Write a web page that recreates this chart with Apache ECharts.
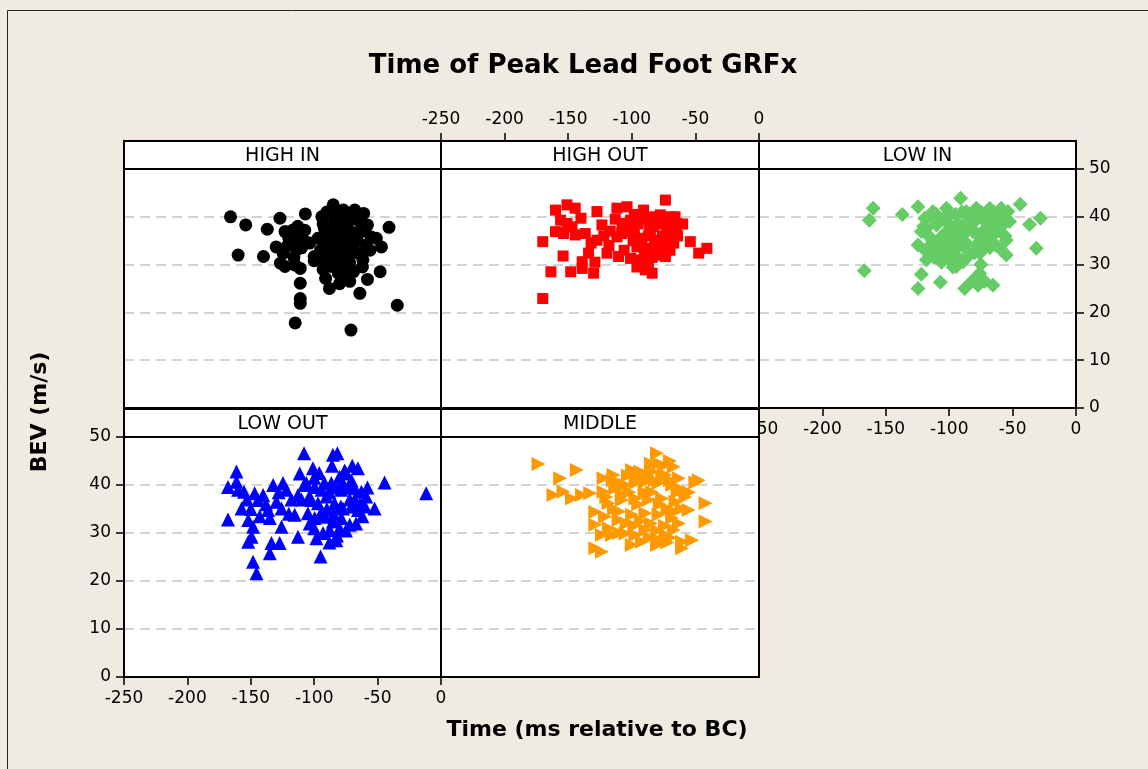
<!DOCTYPE html>
<html>
<head>
<meta charset="utf-8">
<script src="https://cdn.jsdelivr.net/npm/echarts@6/dist/echarts.min.js"></script>
<style>
  html, body { margin: 0; padding: 0; background: #EFEBE1; }
  #chart { width: 1148px; height: 769px; }
</style>
</head>
<body>
<div id="chart"></div>
<script>
// Panel labels (one panel per group)
const panelNames = ['HIGH IN', 'HIGH OUT', 'LOW IN', 'LOW OUT', 'MIDDLE'];

// Axis ranges shared by every panel
const xMin = -250, xMax = 0, xStep = 50;
const yMin = 0, yMax = 50, yStep = 10;

// [time (ms relative to BC), BEV (m/s)] per group
const highIn = [
  [-166,40],[-154,38.3],[-160,32],[-140,31.7],[-137,37.4],[-127,39.7],[-107,40.6],[-130,33.7],
  [-124.5,32.4],[-126.6,30.3],[-123,29.6],[-123,36.9],[-117,37.2],[-111,35.8],[-118,34.8],[-114,33.1],
  [-107.5,37.2],[-103.5,34.5],[-115,29.9],[-111,29.2],[-111,26.1],[-111,22.9],[-111,21.9],[-115,17.8],
  [-100,31.7],[-100,30.8],[-71,16.3],[-34.5,21.5],[-41,37.8],[-48,28.5],[-58,26.9],[-64,24],
  [-72,26.5],[-88,25],[-91,27.1],[-85,42.5],[-94,40],[-77,41.4],[-68,41.4],[-61,40.7],
  [-92,37.6],[-88,38.3],[-82.5,39],[-89,35.5],[-81,36.2],[-75,37.6],[-71,36.9],[-63,38.6],
  [-58,38.3],[-55,35.8],[-51,35.5],[-47,33.7],[-59,34.1],[-68,32.7],[-76,33.4],[-84,34.1],
  [-90,34.5],[-88,32],[-81,31],[-73,31.7],[-65.5,32.4],[-61.6,31],[-86.5,29.6],[-79,29.6],
  [-72,30.3],[-81,28.2],[-89,29.9],[-85,40.5],[-80,38],[-86,36],[-78,35],[-95,33],
  [-84,30.5],[-70,39.5],[-66,36.5],[-120,35.5],[-110,33.5],
  [-90,41],[-82,40.5],[-75,40],[-70,40.2],[-64,39.5],[-60,37],[-66,35],[-70,34],
  [-74,35.5],[-78,37],[-83,36.5],[-87,34],[-92,32],[-85,31.5],[-79,32.5],[-75,29],
  [-69,28.5],[-93,29],[-96,31],[-97,35.5],[-93,38.5],[-56,33],[-62,29.5],[-118,36.5],
  [-113,38],[-121,34],[-108,35],[-116,31.5],[-76,27.5],[-80,26]
];
const highOut = [
  [-170,22.9],[-170,34.8],[-163.6,28.5],[-160,41.4],[-151,42.5],[-144.5,41.8],[-156,39.3],[-151,38.6],
  [-140,39.7],[-160,36.9],[-153.7,36.5],[-144.5,36.2],[-147,37.9],[-136.6,36.5],[-154,31.8],[-148,28.5],
  [-139,30.6],[-139,29.2],[-134,32.4],[-130,28.2],[-127.4,35.1],[-127.4,41.1],[-123.5,38.3],[-119.5,32.4],
  [-111.7,41.8],[-103.8,42.1],[-90.7,41.4],[-73.6,43.5],[-111.7,35.8],[-107.7,38.6],[-101,39.3],[-93.3,40],
  [-85.4,39.7],[-77.6,40.4],[-69.7,40],[-64.4,38.6],[-110.4,31.7],[-101,31.3],[-93.3,31],[-89.4,28.9],
  [-84,28.2],[-73.6,31.7],[-67,34.5],[-54,34.8],[-47.4,32.4],[-41,33.4],[-101,36.9],[-92,35.5],
  [-85.4,36.5],[-79,35.1],[-72.3,36.5],[-96,33.7],[-88,33.4],[-80,33.7],[-72.3,37.9],[-118,34],
  [-98,37],[-83,38],[-76,36],[-68,38],
  [-98,40.5],[-95,38.5],[-90,39.5],[-86,38],[-82,40],[-78,38.5],[-74,39],[-70,38.6],
  [-66,40],[-64,36],[-69,35],[-75,34],[-82,35],[-87,36],[-93,34.5],[-99,35],
  [-104,37.5],[-108,36.5],[-106,33],[-90,32],[-84,31.5],[-78,32],[-70,33],[-65,37.5],
  [-60,38.5],[-113,39.5],[-117,37],[-122,36],[-132,34.5],[-129,30.5],[-96,29.5],[-87,30]
];
const lowIn = [
  [-160,41.8],[-163,39.3],[-167,28.7],[-137,40.5],[-124.6,42.1],[-91,43.9],[-44,42.6],[-36.6,38.4],
  [-28,39.7],[-31.3,33.4],[-122,28],[-124.6,25],[-107,26.3],[-87.8,25],[-77.3,25.7],[-76,28.2],
  [-65.5,25.7],[-82.5,26.4],[-55,35.1],[-55,32],[-59,33.1],[-94.4,33.4],[-99.6,31],[-94.4,29.6],
  [-118,32.7],[-124.6,34.1],[-122,36.9],[-119.3,39.7],[-112.8,41.1],[-102.2,41.8],[-99.6,40.4],[-110,38.3],
  [-115.4,35.8],[-107.5,35.5],[-102.2,36.9],[-86.5,41.1],[-78.6,41.8],[-68,41.8],[-59,41.8],[-53.7,41.1],
  [-91.7,38.3],[-84,39],[-73.4,39.7],[-62.8,39.7],[-89,36.2],[-81.3,36.9],[-73.4,36.9],[-65.5,37.6],
  [-86.5,34.5],[-78.6,34.1],[-70.7,35.1],[-76,32.4],[-84,32],[-105,32.7],[-111.4,33.7],[-97,36.2],
  [-118,37.6],[-52.4,39],[-89,30.6],[-95,38],[-80,40],[-70,38.5],[-100,34],[-92,35],
  [-115,40],[-110,40.5],[-105,39.5],[-100,38.5],[-95,40.5],[-90,41],[-85,40],[-80,39],
  [-75,41],[-70,40.5],[-65,41],[-60,40],[-57,38.5],[-62,37],[-67,36],[-72,35],
  [-77,36],[-82,37.5],[-87,38.5],[-93,37],[-98,35.5],[-103,34.5],[-108,34],[-113,35],
  [-117,33.5],[-112,31.5],[-106,30.5],[-97,29.5],[-91,31],[-86,33],[-80,32.5],[-74,33],
  [-68,33.5],[-63,34],[-96,32],[-102,31.5],[-120,38],[-116,36],[-75,30],[-78,27.5],
  [-72,26.5],[-118,31],[-56,36]
];
const lowOut = [
  [-161.3,42.8],[-168,39.6],[-161.3,40.7],[-168,32.8],[-155.3,38.6],[-157.3,35.1],[-152,32.7],[-148.2,31.3],
  [-149.4,29.2],[-152,28.2],[-148.2,24],[-145.5,21.6],[-147,38.3],[-140.3,37.9],[-144.3,36.9],[-132.4,40],
  [-124.6,40.4],[-122,39],[-136.4,34.8],[-135,33.1],[-129.8,36.5],[-125.8,35.1],[-125.8,31.3],[-133.7,27.9],
  [-127.2,27.9],[-135,25.8],[-115.4,33.8],[-112.8,37.9],[-112.8,29.2],[-108,46.6],[-85.2,46.3],[-81.7,46.6],
  [-111.4,42.4],[-101,43.5],[-98.3,28.9],[-95,25.1],[-82.5,28.5],[-44.5,40.5],[-52.4,35.1],[-65.5,43.5],
  [-106.2,40.4],[-99.6,39.6],[-94.3,39],[-102.2,36.9],[-97,36.2],[-90.4,37.6],[-86.5,40.4],[-80,41.7],
  [-74.6,42.4],[-70.7,41],[-68,39.3],[-62.8,38.6],[-59,37.6],[-78.6,39],[-84,36.2],[-77.3,35.1],
  [-70.7,35.5],[-65.5,34.8],[-105,34.1],[-99.6,33.1],[-91.7,33.4],[-85.2,32.4],[-78.6,33.1],[-72,31.7],
  [-87.8,30.6],[-103.5,32],[-11.7,38.3],
  [-100,41.5],[-96,42.5],[-92,40.5],[-88,38.5],[-83,39.5],[-78,40.5],[-73,39.5],[-68,37],
  [-64,36],[-62,33.5],[-67,32],[-75,30.5],[-80,31],[-85,34],[-90,35],[-95,34],
  [-100,31],[-104,37.5],[-108,40],[-110,37],[-118,37],[-120,34],[-128,38.5],[-138,36],
  [-143,33.5],[-150,35],[-153,37],[-160,39],[-82,29.5],[-88,28],[-93,30],[-72,37],
  [-76,43],[-70,44],[-58,39.5],[-60,35.5],[-79,35.5],[-86,44]
];
const middle = [
  [-173.4,44.4],[-143.2,43.1],[-156.3,41.4],[-161.6,37.9],[-153.7,38.6],[-147,37.2],[-139.2,37.9],[-132.7,38.3],
  [-80.2,46.6],[-79,44.5],[-67,43.8],[-47.4,41],[-42,36.2],[-42,32.4],[-52.6,28.5],[-60.5,28.2],
  [-60.5,26.8],[-80.2,27.5],[-128.7,26.8],[-123.5,26.1],[-128.7,31.7],[-128.7,34.4],[-122.2,41.4],[-114.4,42.1],
  [-99.8,43.1],[-93.3,42.8],[-84,42.8],[-73.6,42.1],[-63,41.4],[-122.2,38.6],[-113,39.3],[-105,40],
  [-97.2,40.4],[-89.3,40.7],[-79,40.4],[-68.3,40],[-60.5,39],[-118.3,36.2],[-107.7,36.9],[-97.2,37.2],
  [-86.8,36.9],[-76.2,37.2],[-65.7,36.5],[-55.3,34.8],[-121,33.4],[-110.4,32.7],[-99.8,33.8],[-89.3,34.1],
  [-79,33.8],[-68.3,33.1],[-115.6,29.6],[-97.2,29.6],[-89.3,30.6],[-73.6,29.6],[-92,28.2],[-105,29.9],
  [-123.5,29.6],[-67,30.6],
  [-115,41],[-110,40.5],[-103,42],[-96,41.5],[-88,42],[-82,41],[-76,41.5],[-70,41],
  [-64,38.5],[-58,37.5],[-61,35],[-67,34.5],[-72,35],[-78,36],[-84,38.5],[-90,38.5],
  [-95,36],[-102,38.5],[-108,38],[-114,35],[-110,34.5],[-104,32],[-98,31.5],[-93,32.5],
  [-85,32],[-80,30.5],[-74,31.5],[-70,29],[-63,32],[-118,31],[-110,30],[-100,27.5],
  [-86,29],[-78,28.5],[-72,28],[-55,38.5],[-50,40.5],[-120,37.5],[-85,44.5],[-75,44],[-70,45]
];

// Panel geometry in pixels: [left, top, width, height] of each plot area
const plotBoxes = [
  [124, 169, 317, 239],
  [441, 169, 318, 239],
  [759, 169, 317, 239],
  [124, 437, 317, 240],
  [441, 437, 318, 240]
];
const stripH = 28;

const FONT = 'DejaVu Sans';
const tickStyle = { show: true, inside: false, length: 8, lineStyle: { color: '#000', width: 1.5 } };
const labelStyle = { color: '#000', fontFamily: FONT, fontSize: 17 };
const dashLine = {
  show: true, showMinLine: false, showMaxLine: false,
  lineStyle: { color: '#c6c6c6', width: 1.5, type: [10, 6] }
};

function xAxisFor(i, opts) {
  const shown = !!opts;
  return Object.assign({
    type: 'value', gridIndex: i, min: xMin, max: xMax, interval: xStep,
    axisLine: { show: shown, onZero: false, lineStyle: { color: '#000', width: 2 } },
    axisTick: shown ? tickStyle : { show: false },
    axisLabel: shown ? Object.assign({ margin: 13 }, labelStyle) : { show: false },
    splitLine: { show: false }
  }, opts || {});
}
function yAxisFor(i, opts) {
  const shown = !!opts;
  return Object.assign({
    type: 'value', gridIndex: i, min: yMin, max: yMax, interval: yStep,
    axisLine: { show: shown, onZero: false, lineStyle: { color: '#000', width: 2 } },
    axisTick: shown ? tickStyle : { show: false },
    axisLabel: shown ? Object.assign({ margin: 13 }, labelStyle) : { show: false },
    splitLine: dashLine
  }, opts || {});
}

const groups = [
  { data: highIn,  symbol: 'circle',   size: 13, color: '#000000', rotate: 0 },
  { data: highOut, symbol: 'rect',     size: 11, color: '#FF0000', rotate: 0 },
  { data: lowIn,   symbol: 'diamond',  size: 15, color: '#66CC66', rotate: 0 },
  { data: lowOut,  symbol: 'triangle', size: 14, color: '#0000FF', rotate: 0 },
  { data: middle,  symbol: 'triangle', size: 14, color: '#FF9900', rotate: -90 }
];

// Strip headers and panel frames
const graphics = [];
plotBoxes.forEach((b, i) => {
  graphics.push({
    type: 'rect', z: 10,
    shape: { x: b[0], y: b[1] - stripH, width: b[2], height: stripH },
    style: { fill: '#fff', stroke: '#000', lineWidth: 2 }
  });
  graphics.push({
    type: 'text', z: 11,
    style: {
      text: panelNames[i], x: b[0] + b[2] / 2, y: b[1] - stripH / 2 + 1,
      textAlign: 'center', textVerticalAlign: 'middle',
      fontFamily: FONT, fontSize: 19, fill: '#000'
    }
  });
  graphics.push({
    type: 'rect', z: 10,
    shape: { x: b[0], y: b[1], width: b[2], height: b[3] },
    style: { fill: null, stroke: '#000', lineWidth: 2 }
  });
});
// Outer frame edges
graphics.push({
  type: 'polyline', z: 10,
  shape: { points: [[7.5, 769], [7.5, 10.5], [1148, 10.5]] },
  style: { fill: null, stroke: '#222', lineWidth: 1 }
});
// Titles
graphics.push({
  type: 'text', z: 11,
  style: { text: 'Time of Peak Lead Foot GRFx', x: 583, y: 66, textAlign: 'center', textVerticalAlign: 'middle',
           fontFamily: FONT, fontSize: 26, fontWeight: 'bold', fill: '#000' }
});
graphics.push({
  type: 'text', z: 11,
  style: { text: 'Time (ms relative to BC)', x: 597, y: 730, textAlign: 'center', textVerticalAlign: 'middle',
           fontFamily: FONT, fontSize: 22, fontWeight: 'bold', fill: '#000' }
});
graphics.push({
  type: 'text', z: 11, x: 40, y: 412, rotation: Math.PI / 2,
  style: { text: 'BEV (m/s)', x: 0, y: 0, textAlign: 'center', textVerticalAlign: 'middle',
           fontFamily: FONT, fontSize: 22, fontWeight: 'bold', fill: '#000' }
});

const option = {
  backgroundColor: '#EFEBE1',
  animation: false,
  grid: plotBoxes.map(b => ({
    left: b[0], top: b[1], width: b[2], height: b[3],
    show: true, backgroundColor: '#fff', borderWidth: 0, containLabel: false
  })),
  xAxis: [
    xAxisFor(0),
    xAxisFor(1, { position: 'top', offset: stripH }),
    xAxisFor(2, { position: 'bottom' }),
    xAxisFor(3, { position: 'bottom' }),
    xAxisFor(4)
  ],
  yAxis: [
    yAxisFor(0),
    yAxisFor(1),
    yAxisFor(2, { position: 'right' }),
    yAxisFor(3, { position: 'left' }),
    yAxisFor(4)
  ],
  series: groups.map((g, i) => ({
    type: 'scatter', name: panelNames[i],
    xAxisIndex: i, yAxisIndex: i,
    data: g.data, symbol: g.symbol, symbolSize: g.size, symbolRotate: g.rotate,
    itemStyle: { color: g.color, opacity: 1 },
    emphasis: { disabled: true }, z: 2
  })),
  graphic: graphics
};

const chart = echarts.init(document.getElementById('chart'), null, { renderer: 'canvas' });
chart.setOption(option);
</script>
</body>
</html>
